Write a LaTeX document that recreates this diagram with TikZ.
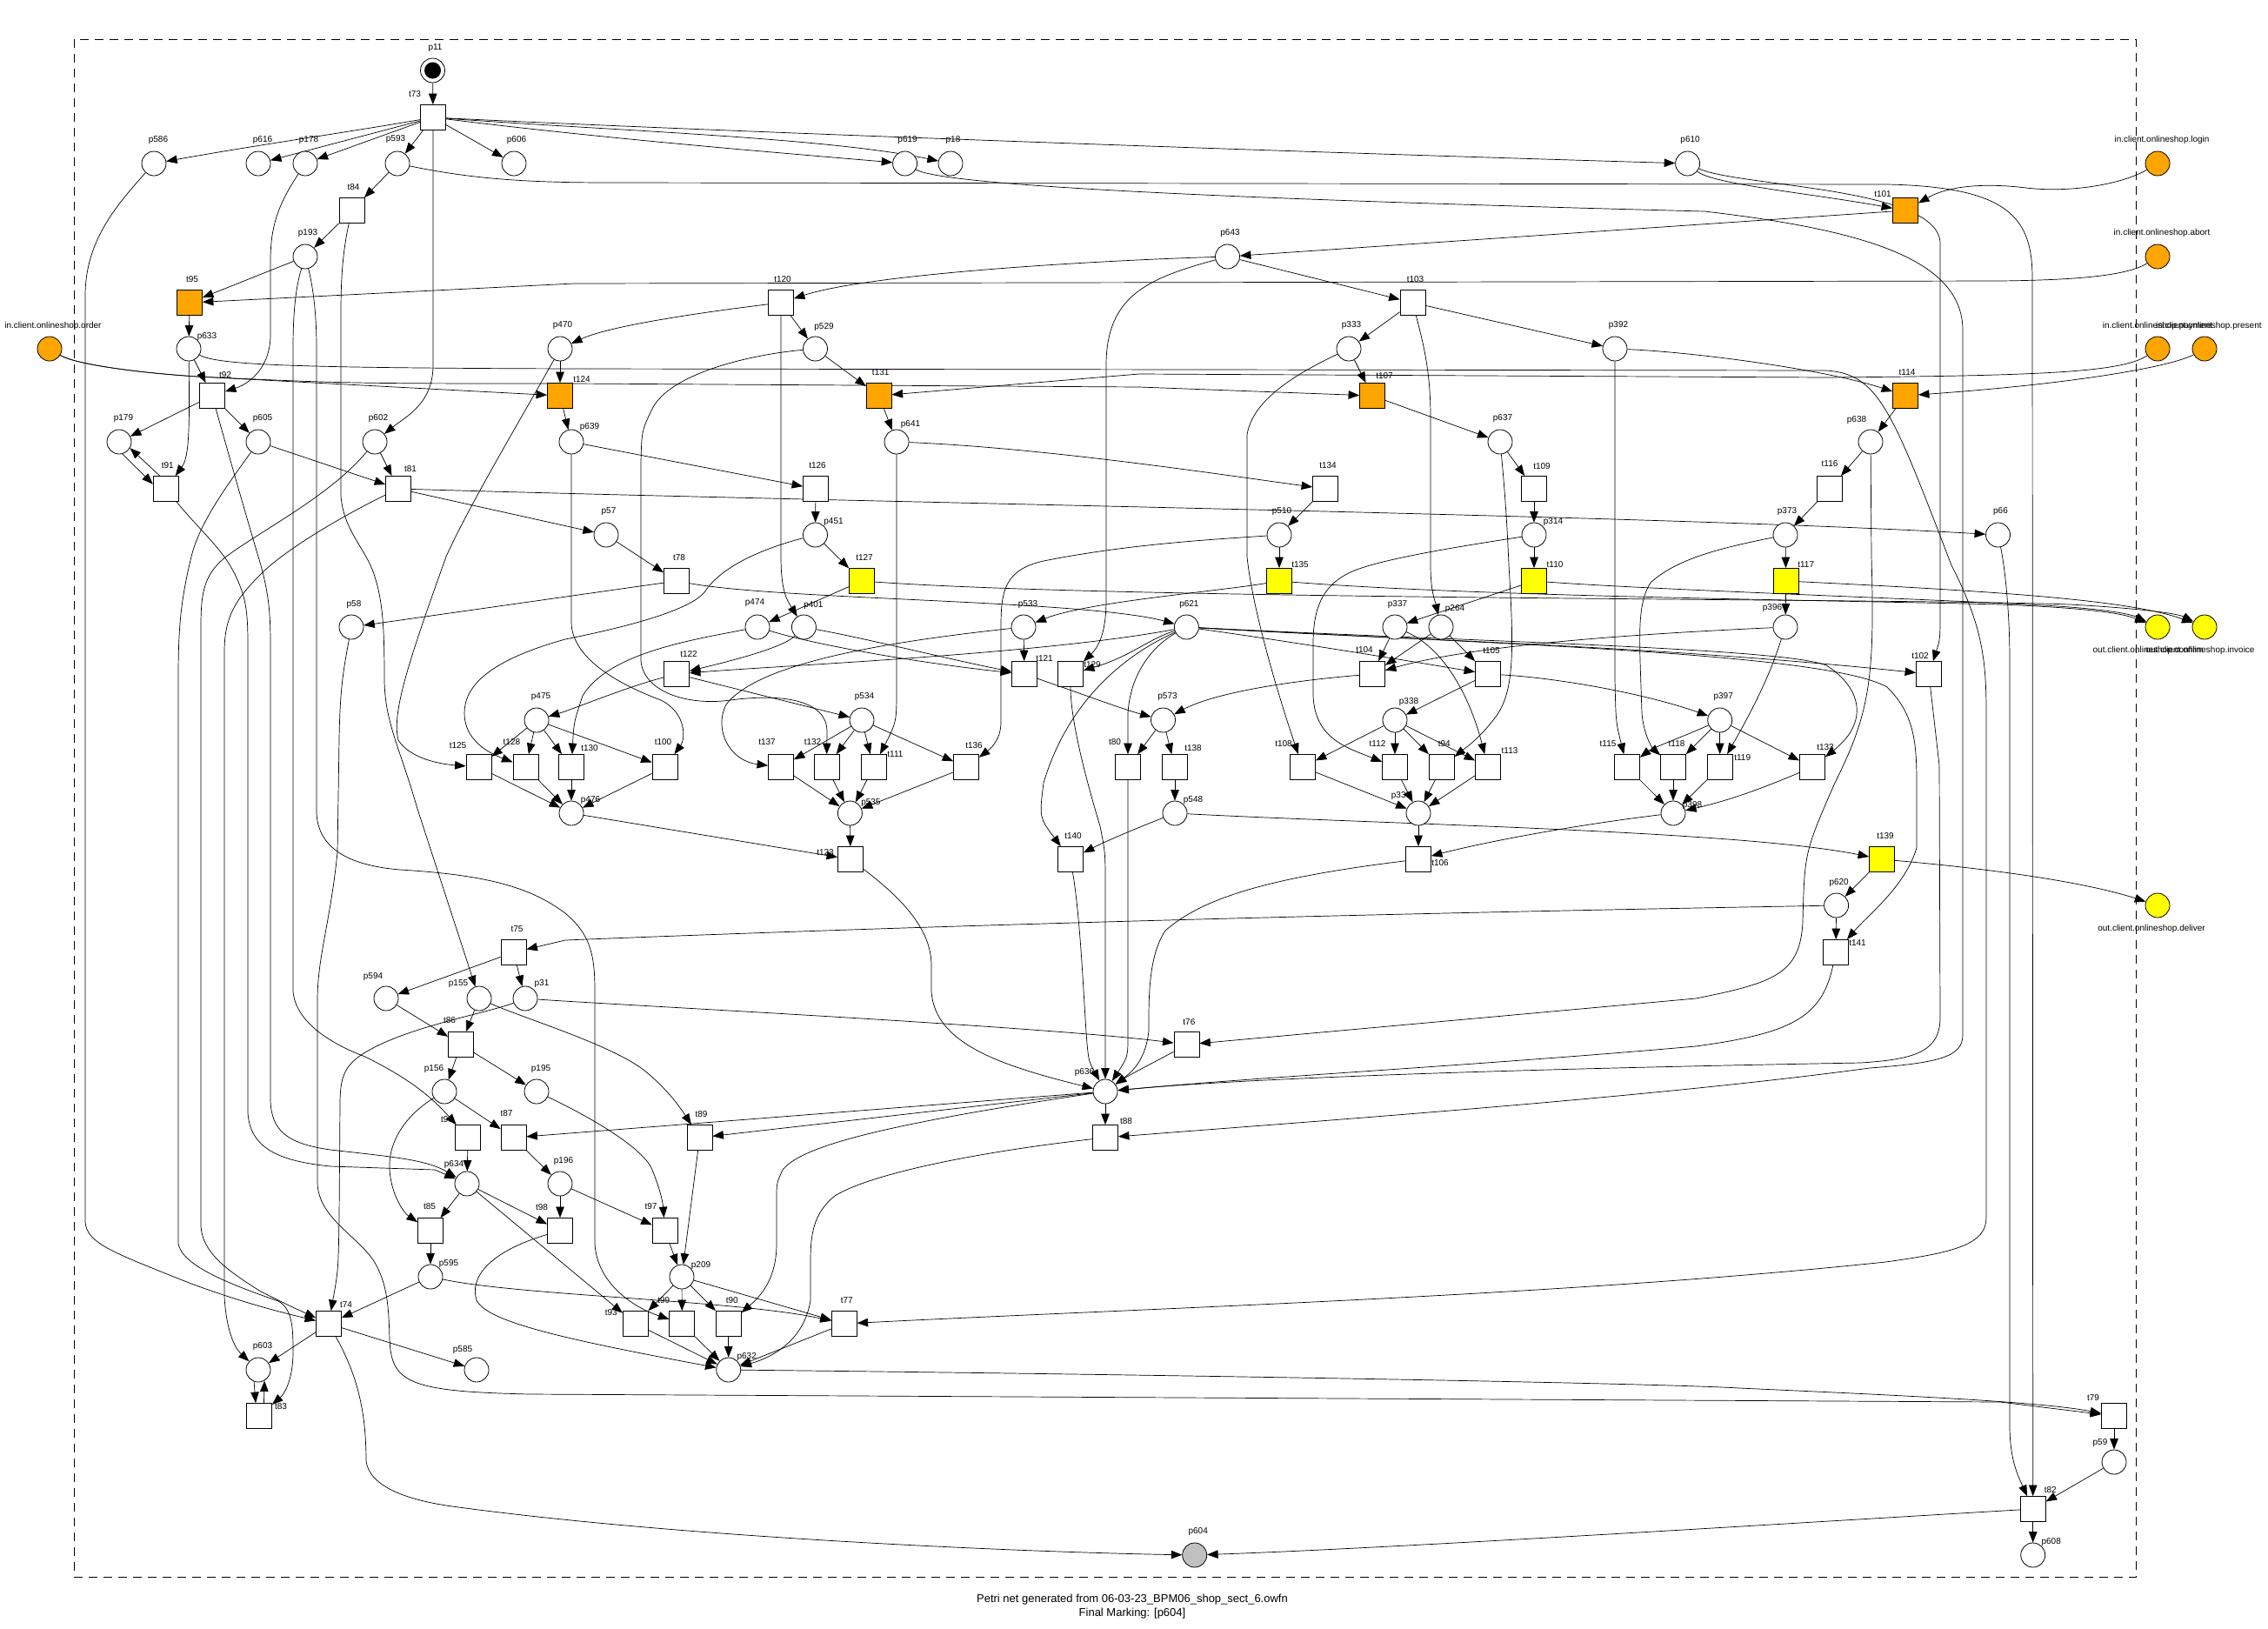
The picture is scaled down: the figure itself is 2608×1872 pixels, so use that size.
\documentclass[tikz,border=0pt]{standalone}
\usepackage{fontspec}
\setmainfont{Liberation Sans}
\usetikzlibrary{arrows.meta}
\definecolor{orng}{HTML}{FFA500}
\definecolor{ylw}{HTML}{FFFF00}
\definecolor{gry}{HTML}{C0C0C0}
\pgfdeclarelayer{back}
\pgfdeclarelayer{bg}
\pgfsetlayers{back,bg,main}
% place / transition with its name written at an offset from the centre
\newcommand\mkplace[6][white]{\node[pl,fill=#1] (#2) at (#3,#4) {};\node[lab] (#2l) at ({#3+#5},{#4+#6}) {#2};}
\newcommand\mktrans[6][white]{\node[tr,fill=#1] (#2) at (#3,#4) {};\node[lab] (#2l) at ({#3+#5},{#4+#6}) {#2};}
\begin{document}
\begin{tikzpicture}[x=1pt,y=-1pt,
  pl/.style={circle,draw,line width=0.8pt,minimum size=28pt,inner sep=0pt},
  tr/.style={rectangle,draw,line width=0.8pt,minimum size=29pt,inner sep=0pt},
  lab/.style={font=\fontsize{10}{12}\selectfont,inner sep=0pt},
  arc/.style={line width=0.7pt,-{Triangle[length=12.5pt,width=9.5pt]}}]
\useasboundingbox (0,0) rectangle (2608,1872);
\begin{pgfonlayer}{back}
\fill[white] (0,0) rectangle (2608,1872);
\end{pgfonlayer}
\draw[dash pattern=on 10pt off 7pt,line width=0.7pt] (85.5,45.4) rectangle (2456.5,1813.5);

% ---------- places and transitions ----------
\mkplace{p11}{497.5}{81}{3}{-26}
\fill (p11.center) circle[radius=9.5pt];
\mktrans{t73}{498}{135}{-21}{-27}
\mkplace{p586}{177}{188}{5}{-27}
\mkplace{p616}{297}{188}{5}{-27}
\mkplace{p178}{351}{188}{4}{-27}
\mkplace{p593}{457}{188}{-2}{-28}
\mkplace{p606}{591}{188}{3}{-27}
\mkplace{p619}{1040.6}{188}{3}{-27}
\mkplace{p18}{1093}{188}{3}{-27}
\mkplace{p610}{1940.6}{188}{3}{-27}
\mktrans{t84}{404.5}{242}{2}{-27}
\mktrans[orng]{t101}{2191}{242}{-26}{-19}
\mkplace{p193}{351}{295}{3}{-27}
\mkplace{p643}{1411.5}{295}{3}{-27}
\mktrans[orng]{t95}{218}{348}{3}{-27}
\mktrans{t120}{898}{348}{2}{-27}
\mktrans{t103}{1624.5}{348}{3}{-27}
\mkplace{p633}{217}{401}{21}{-14}
\mkplace{p470}{644}{401}{3}{-27}
\mkplace{p529}{937.5}{401}{10}{-25}
\mkplace{p333}{1551}{401}{3}{-27}
\mkplace{p392}{1857}{401}{4}{-27}
\mktrans{t92}{244}{455}{15}{-24}
\mktrans[orng]{t124}{644}{455}{25}{-19}
\mktrans[orng]{t131}{1010.7}{455}{2}{-27}
\mktrans[orng]{t107}{1578}{455}{14}{-23}
\mktrans[orng]{t114}{2191}{455}{2}{-27}
\mkplace{p179}{137}{508}{5}{-27}
\mkplace{p605}{297}{508}{5}{-27}
\mkplace{p602}{431}{508}{4}{-27}
\mkplace{p639}{657}{508}{21}{-17}
\mkplace{p641}{1031}{508}{16}{-20}
\mkplace{p637}{1725}{508}{3}{-27}
\mkplace{p638}{2151}{508}{-16}{-25}
\mktrans{t91}{190.7}{562}{2}{-27}
\mktrans{t81}{458}{562}{14}{-23}
\mktrans{t126}{938}{562}{2}{-27}
\mktrans{t134}{1524}{562}{3}{-27}
\mktrans{t109}{1764}{562}{9}{-26}
\mktrans{t116}{2104}{562}{0}{-29}
\mkplace{p57}{697}{615}{3}{-27}
\mkplace{p451}{937.5}{615}{21}{-15}
\mkplace{p510}{1471}{615}{3}{-27}
\mkplace{p314}{1764}{615}{22}{-15}
\mkplace{p373}{2053}{615}{2}{-27}
\mkplace{p66}{2297.5}{615}{3}{-27}
\mktrans{t78}{778}{668}{3}{-27}
\mktrans[ylw]{t127}{991}{668}{3}{-27}
\mktrans[ylw]{t135}{1471}{668}{24}{-19}
\mktrans[ylw]{t110}{1764}{668}{24}{-19}
\mktrans[ylw]{t117}{2053.7}{668}{23}{-19}
\mkplace{p58}{404}{721}{3}{-26}
\mkplace{p474}{871}{721}{-3}{-28}
\mkplace{p401}{924.4}{721}{11}{-25}
\mkplace{p533}{1177}{721}{5}{-26}
\mkplace{p621}{1364.4}{721}{3}{-26}
\mkplace{p337}{1604}{721}{3}{-26}
\mkplace{p264}{1657}{721}{16}{-21}
\mkplace{p396}{2053}{721}{-15}{-22}
\mktrans{t122}{778}{775}{14}{-23}
\mktrans{t121}{1178}{775}{23}{-18}
\mktrans{t129}{1231}{775}{25}{-11}
\mktrans{t104}{1578}{775}{-9}{-28}
\mktrans{t105}{1711}{775}{4}{-27}
\mktrans{t102}{2218}{775}{-10}{-21}
\mkplace{p475}{617}{828}{5}{-27}
\mkplace{p534}{991}{828}{3}{-27}
\mkplace{p573}{1337.5}{828}{5}{-27}
\mkplace{p338}{1604}{828}{16}{-21}
\mkplace{p397}{1977.7}{828}{4}{-27}
\mktrans{t125}{550.5}{882}{-24}{-25}
\mktrans{t128}{604.4}{882}{-16}{-29}
\mktrans{t130}{657}{882}{21}{-22}
\mktrans{t100}{764.5}{882}{-2}{-29}
\mktrans{t137}{898}{882}{-16}{-29}
\mktrans{t132}{950.5}{882}{-16}{-29}
\mktrans{t111}{1004.4}{882}{25}{-15}
\mktrans{t136}{1111}{882}{9}{-25}
\mktrans{t80}{1297}{882}{-15}{-29}
\mktrans{t138}{1351}{882}{21}{-22}
\mktrans{t108}{1498}{882}{-22}{-27}
\mktrans{t112}{1604}{882}{-20}{-27}
\mktrans{t94}{1657.7}{882}{3}{-27}
\mktrans{t113}{1711}{882}{25}{-19}
\mktrans{t115}{1871}{882}{-22}{-27}
\mktrans{t118}{1924}{882}{4}{-27}
\mktrans{t119}{1977.7}{882}{26}{-11}
\mktrans{t133}{2084}{882}{15}{-23}
\mkplace{p476}{657}{935}{22}{-15}
\mkplace{p535}{977.4}{935}{24}{-12}
\mkplace{p548}{1351}{935}{21}{-15}
\mkplace{p339}{1631}{935}{-20}{-20}
\mkplace{p398}{1924}{935}{22}{-9}
\mktrans{t123}{978}{988}{-29}{-8}
\mktrans{t140}{1231}{988}{3}{-27}
\mktrans{t106}{1631}{988}{25}{4}
\mktrans[ylw]{t139}{2164}{988}{4}{-27}
\mkplace{p620}{2111.6}{1041}{3}{-26}
\mktrans{t75}{590.5}{1095}{4}{-27}
\mktrans{t141}{2111}{1095}{25}{-11}
\mkplace{p594}{444}{1148}{-15}{-25}
\mkplace{p155}{551}{1148}{-24}{-17}
\mkplace{p31}{604}{1148}{19}{-17}
\mktrans{t86}{530}{1201}{-13}{-28}
\mktrans{t76}{1364.4}{1201}{3}{-26}
\mkplace{p156}{511}{1255}{-12}{-26}
\mkplace{p195}{617}{1255}{5}{-26}
\mkplace{p636}{1271}{1255}{-24}{-22}
\mktrans{t96}{538}{1308}{-24}{-21}
\mktrans{t87}{590.5}{1308}{-8}{-28}
\mktrans{t89}{804.5}{1308}{2}{-27}
\mktrans{t88}{1271}{1308}{24}{-19}
\mkplace{p634}{537}{1361}{-15}{-22}
\mkplace{p196}{644}{1361}{4}{-26}
\mktrans{t85}{495}{1415}{-1}{-28}
\mktrans{t98}{644}{1415}{-21}{-27}
\mktrans{t97}{764.5}{1415}{-16}{-28}
\mkplace{p595}{495}{1468}{21}{-15}
\mkplace{p209}{784}{1468}{22}{-13}
\mktrans{t74}{378}{1522}{20}{-22}
\mktrans{t93}{730.8}{1522}{-28}{-13}
\mktrans{t99}{784.3}{1522}{-21}{-27}
\mktrans{t90}{837.7}{1522}{4}{-27}
\mktrans{t77}{970.7}{1522}{3}{-27}
\mkplace{p603}{297}{1575}{5}{-27}
\mkplace{p585}{548}{1575}{-16}{-23}
\mkplace{p632}{837.7}{1575}{21}{-15}
\mktrans{t83}{298}{1628}{25}{-11}
\mktrans{t79}{2431}{1628}{-24}{-21}
\mkplace{p59}{2431}{1681}{-16}{-22}
\mktrans{t82}{2337.7}{1735}{20}{-22}
\mkplace[gry]{p604}{1373.7}{1788}{4}{-27}
\mkplace{p608}{2337.7}{1788}{21}{-15}

% interface places
\node[pl,fill=orng] (order) at (57,401) {};
\node[lab] (orderl) at (61,375) {in.client.onlineshop.order};
\node[pl,fill=orng] (login) at (2481,188) {};
\node[lab] (loginl) at (2486,161) {in.client.onlineshop.login};
\node[pl,fill=orng] (abort) at (2481,295) {};
\node[lab] (abortl) at (2486,268) {in.client.onlineshop.abort};
\node[pl,fill=orng] (payment) at (2481,401) {};
\node[lab] (paymentl) at (2481,375) {in.client.onlineshop.payment};
\node[pl,fill=orng] (present) at (2535,401) {};
\node[lab] (presentl) at (2540,375) {in.client.onlineshop.present};
\node[pl,fill=ylw] (confirm) at (2481,721) {};
\node[lab] (confirml) at (2470,748) {out.client.onlineshop.confirm};
\node[pl,fill=ylw] (invoice) at (2535,721) {};
\node[lab] (invoicel) at (2530,748) {out.client.onlineshop.invoice};
\node[pl,fill=ylw] (deliver) at (2481,1041) {};
\node[lab] (deliverl) at (2474,1068) {out.client.onlineshop.deliver};

\node[font=\fontsize{13}{16}\selectfont,align=center] (caption) at (1302,1847)
  {Petri net generated from 06-03-23\_BPM06\_shop\_sect\_6.owfn\\Final Marking: [p604]};

% ---------- arcs ----------
\begin{pgfonlayer}{bg}
% top
\draw[arc] (p11) -- (t73);
\draw[arc] (t73) .. controls (400,152) and (300,166) .. (p586);
\draw[arc] (t73) -- (p616);
\draw[arc] (t73) -- (p178);
\draw[arc] (t73) -- (p593);
\draw[arc] (t73) -- (p606);
\draw[arc] (t73) .. controls (700,160) and (900,176) .. (p619);
\draw[arc] (t73) .. controls (700,150) and (950,158) .. (p18);
\draw[arc] (t73) .. controls (800,150) and (1400,172) .. (p610);
\draw[arc] (t73) -- (498,420) .. controls (498,465) and (465,480) .. (p602);
\draw[arc] (p593) -- (t84);
\draw[arc] (t84) -- (p193);
\draw[arc] (p193) -- (t95);
\draw[arc] (abort) .. controls (2445,318) and (2380,322) .. (2300,323) -- (660,326) -- (t95);
\draw[arc] (t95) -- (p633);
\draw[arc] (p633) -- (t92);
\draw[arc] (p633) .. controls (218,490) and (218,525) .. (t91);
\draw[arc] (p178) .. controls (320,235) and (311,260) .. (311,300) -- (311,385) .. controls (311,420) and (290,440) .. (t92);
\draw[arc] (t92) -- (p179);
\draw[arc] (t92) -- (p605);
\draw[arc] (p179.285) -- (t91.160);
\draw[arc] (t91.115) -- (p179.330);
\draw[arc] (p605) -- (t81);
\draw[arc] (p602) -- (t81);
\draw[arc] (t81) -- (p57);
\draw[arc] (t81) .. controls (1000,578) and (1900,592) .. (p66);
\draw[arc] (p610) .. controls (1970,212) and (2080,222) .. (t101);
\draw[arc] (login) .. controls (2440,212) and (2380,222) .. (2330,216) .. controls (2280,210) and (2240,214) .. (t101);
\draw[arc] (t101) -- (p643);
\draw[arc] (p643) .. controls (1250,300) and (1000,315) .. (t120);
\draw[arc] (p643) -- (t103);
\draw[arc] (p643) .. controls (1320,320) and (1272,340) .. (1272,420) -- (1272,690) .. controls (1272,730) and (1262,745) .. (t129);
\draw[arc] (p593) .. controls (540,205) and (600,210) .. (700,210) -- (2170,212) .. controls (2310,215) and (2337,250) .. (2337,320) -- (t82);
\draw[arc] (p610) .. controls (2000,215) and (2231,215) .. (2231,280) -- (2231,700) .. controls (2231,735) .. (t102);
\draw[arc] (p619) .. controls (1080,210) and (1300,226) .. (1960,243) .. controls (2150,265) and (2257,300) .. (2257,380) -- (2257,1190) .. controls (2257,1215) and (2230,1222) .. (2150,1228) .. controls (1900,1262) and (1500,1290) .. (t88);
\draw[arc] (p633) .. controls (250,420) and (345,423) .. (660,424) -- (2100,426) .. controls (2160,430) and (2175,470) .. (2244,650) .. controls (2280,720) and (2284,760) .. (2284,820) -- (2284,1400) .. controls (2284,1430) and (2250,1440) .. (2168,1451) .. controls (1800,1490) and (1300,1505) .. (t77);
\draw[arc] (p66) .. controls (2305,650) and (2311,700) .. (2311,760) -- (2311,1640) .. controls (2311,1680) and (2322,1700) .. (t82);
\draw[arc] (order) .. controls (85,418) and (150,428) .. (227,433) -- (t124);
\draw[arc] (order) .. controls (85,418) and (150,428) .. (227,433) .. controls (400,441) .. (660,441) -- (1310,445) -- (t107);
\draw[arc] (payment) .. controls (2440,428) and (2350,432) .. (2100,434) -- (1310,430) -- (t131);
\draw[arc] (present) .. controls (2500,420) and (2400,440) .. (t114);
\draw[arc] (p392) .. controls (1950,405) and (2100,425) .. (t114);
% upper middle
\draw[arc] (t120) .. controls (800,360) and (700,375) .. (p470);
\draw[arc] (t120) -- (p529);
\draw[arc] (t120) -- (898,640) .. controls (898,680) and (905,690) .. (p401);
\draw[arc] (p470) -- (t124);
\draw[arc] (p470) .. controls (600,480) and (540,580) .. (513,640) .. controls (470,760) and (450,820) .. (458,851) .. controls (470,870) and (500,878) .. (t125);
\draw[arc] (t124) -- (p639);
\draw[arc] (p639) -- (t126);
\draw[arc] (p639) -- (657,715) .. controls (657,760) and (720,790) .. (760,805) .. controls (790,820) and (788,850) .. (t100);
\draw[arc] (p529) -- (t131);
\draw[arc] (p529) .. controls (860,408) and (770,430) .. (750,470) .. controls (738,495) .. (737,530) -- (737,760) .. controls (740,795) and (790,812) .. (840,805) .. controls (900,797) and (950,805) .. (951,840) -- (t132);
\draw[arc] (t131) -- (p641);
\draw[arc] (p641) .. controls (1200,515) and (1400,545) .. (t134);
\draw[arc] (p641) -- (1031,790) .. controls (1031,830) .. (t111);
\draw[arc] (t126) -- (p451);
\draw[arc] (p451) -- (t127);
\draw[arc] (p451) .. controls (880,630) and (830,650) .. (810,681) .. controls (790,705) and (700,725) .. (650,735) .. controls (560,760) and (534,790) .. (534,820) .. controls (534,850) and (560,865) .. (t128);
\draw[arc] (t127) -- (p474);
\draw[arc] (t134) -- (p510);
\draw[arc] (p510) -- (t135);
\draw[arc] (p510) .. controls (1400,620) and (1300,625) .. (1200,645) .. controls (1155,655) and (1151,680) .. (1151,720) -- (1151,830) .. controls (1151,850) and (1140,860) .. (t136);
\draw[arc] (t103) -- (p333);
\draw[arc] (t103) -- (p392);
\draw[arc] (t103) .. controls (1638,400) and (1645,430) .. (1645,480) -- (1645,650) .. controls (1645,680) and (1650,690) .. (p264);
\draw[arc] (p333) -- (t107);
\draw[arc] (p333) .. controls (1490,430) and (1440,460) .. (1434,500) -- (1434,640) .. controls (1440,700) and (1470,800) .. (t108);
\draw[arc] (t107) -- (p637);
\draw[arc] (p637) -- (t109);
\draw[arc] (p637) .. controls (1730,560) and (1733,600) .. (1735,650) .. controls (1742,760) and (1740,800) .. (1717,828) .. controls (1700,850) and (1685,860) .. (t94);
\draw[arc] (t109) -- (p314);
\draw[arc] (p314) -- (t110);
\draw[arc] (p314) .. controls (1700,625) and (1600,640) .. (1560,655) .. controls (1520,670) and (1510,700) .. (1510,740) -- (1510,800) .. controls (1512,850) and (1550,860) .. (t112);
\draw[arc] (t110) -- (p337);
\draw[arc] (p392) -- (1857,780) .. controls (1858,830) .. (t115);
\draw[arc] (t114) -- (p638);
\draw[arc] (p638) -- (t116);
\draw[arc] (t116) -- (p373);
\draw[arc] (p373) -- (t117);
\draw[arc] (t117) -- (p396);
\draw[arc] (p638) -- (2152,640) .. controls (2156,780) and (2150,820) .. (2110,900) .. controls (2075,980) .. (2073,1060) .. controls (2070,1120) and (2040,1130) .. (1950,1148) -- (t76);
\draw[arc] (p373) .. controls (1990,628) and (1930,640) .. (1898,670) .. controls (1885,690) and (1885,720) .. (1886,760) -- (1888,820) .. controls (1890,845) and (1900,860) .. (t118);
% sending transitions
\draw[arc] (t127) .. controls (1300,690) and (2200,688) .. (2380,695) .. controls (2470,700) and (2505,706) .. (invoice);
\draw[arc] (t135) .. controls (1700,686) and (2100,690) .. (2300,695) .. controls (2400,699) and (2440,705) .. (confirm);
\draw[arc] (t110) .. controls (1900,678) and (2200,688) .. (2350,696) .. controls (2420,700) and (2450,706) .. (confirm);
\draw[arc] (t117) .. controls (2300,680) and (2450,690) .. (invoice);
\draw[arc] (t135) .. controls (1400,680) and (1250,692) .. (p533);
\draw[arc] (t78) .. controls (900,690) and (1250,690) .. (p621);
\draw[arc] (p57) -- (t78);
\draw[arc] (t78) -- (p58);
% middle
\draw[arc] (p401) .. controls (1000,735) and (1100,760) .. (t121);
\draw[arc] (p474) .. controls (950,745) and (1080,765) .. (t121);
\draw[arc] (p401) .. controls (900,745) and (840,760) .. (t122);
\draw[arc] (p474) .. controls (800,735) and (700,750) .. (670,800) .. controls (660,830) .. (t130);
\draw[arc] (p533) -- (t121);
\draw[arc] (p533) .. controls (1000,740) and (870,765) .. (835,810) .. controls (820,840) and (840,875) .. (t137);
\draw[arc] (p621) .. controls (1200,752) and (900,765) .. (t122);
\draw[arc] (t122) -- (p534);
\draw[arc] (t122) .. controls (720,790) and (660,815) .. (p475);
\draw[arc] (p534) -- (t137);
\draw[arc] (p534) -- (t132);
\draw[arc] (p534) -- (t111);
\draw[arc] (p534) -- (t136);
\draw[arc] (p475) -- (t125);
\draw[arc] (p475) -- (t128);
\draw[arc] (p475) -- (t130);
\draw[arc] (p475) -- (t100);
\draw[arc] (t125) -- (p476);
\draw[arc] (t128) -- (p476);
\draw[arc] (t130) -- (p476);
\draw[arc] (t100) -- (p476);
\draw[arc] (t137) -- (p535);
\draw[arc] (t132) -- (p535);
\draw[arc] (t111) -- (p535);
\draw[arc] (t136) -- (p535);
\draw[arc] (p476) -- (t123);
\draw[arc] (p535) -- (t123);
\draw[arc] (t123) .. controls (1040,1035) and (1071,1070) .. (1071,1110) -- (1071,1140) .. controls (1075,1200) and (1150,1225) .. (p636);
\draw[arc] (t121) .. controls (1250,800) and (1290,815) .. (p573);
\draw[arc] (t129) .. controls (1231,830) and (1250,900) .. (1265,950) .. controls (1271,980) .. (1271,1020) -- (p636);
\draw[arc] (t80) -- (1297,1190) .. controls (1297,1215) .. (p636);
\draw[arc] (t140) .. controls (1243,1060) and (1246,1150) .. (1250,1200) .. controls (1252,1220) .. (p636);
\draw[arc] (p548) .. controls (1300,955) and (1270,968) .. (t140);
\draw[arc] (p548) .. controls (1600,948) and (2000,955) .. (t139);
\draw[arc] (p573) -- (t80);
\draw[arc] (p573) -- (t138);
\draw[arc] (t138) -- (p548);
\draw[arc] (t104) .. controls (1460,785) and (1390,800) .. (p573);
\draw[arc] (p621) .. controls (1500,740) and (1620,760) .. (t105);
\draw[arc] (p621) .. controls (1320,735) and (1300,755) .. (t129);
\draw[arc] (p621) .. controls (1330,740) and (1300,770) .. (1297,820) -- (t80);
\draw[arc] (p621) .. controls (1300,750) and (1230,800) .. (1200,900) .. controls (1195,940) .. (t140);
\draw[arc] (p621) .. controls (1600,735) and (1900,742) .. (t102);
\draw[arc] (p621) .. controls (1700,738) and (2050,745) .. (2100,765) .. controls (2140,790) and (2150,830) .. (t133);
\draw[arc] (p621) .. controls (1700,740) and (2100,750) .. (2170,790) .. controls (2200,820) and (2204,850) .. (2204,900) -- (2204,975) .. controls (2190,1020) and (2150,1050) .. (t141);
\draw[arc] (p337) -- (t104);
\draw[arc] (p264) -- (t104);
\draw[arc] (p264) -- (t105);
\draw[arc] (p337) .. controls (1660,745) and (1690,800) .. (t113);
\draw[arc] (t105) -- (p338);
\draw[arc] (t105) .. controls (1800,780) and (1900,800) .. (p397);
\draw[arc] (p338) -- (t108);
\draw[arc] (p338) -- (t112);
\draw[arc] (p338) -- (t94);
\draw[arc] (p338) -- (t113);
\draw[arc] (t108) -- (p339);
\draw[arc] (t112) -- (p339);
\draw[arc] (t94) -- (p339);
\draw[arc] (t113) -- (p339);
\draw[arc] (p339) -- (t106);
\draw[arc] (t106) .. controls (1450,1010) and (1380,1035) .. (1340,1070) .. controls (1320,1100) and (1321,1150) .. (1321,1185) .. controls (1318,1215) and (1305,1230) .. (p636);
\draw[arc] (p398) .. controls (1800,950) and (1700,970) .. (t106);
\draw[arc] (t115) -- (p398);
\draw[arc] (t118) -- (p398);
\draw[arc] (t119) -- (p398);
\draw[arc] (t133) .. controls (2030,905) and (1990,920) .. (p398);
\draw[arc] (p397) .. controls (1940,845) and (1900,860) .. (t115);
\draw[arc] (p397) -- (t118);
\draw[arc] (p397) -- (t119);
\draw[arc] (p397) -- (t133);
\draw[arc] (p396) .. controls (2040,760) and (2030,790) .. (t119);
\draw[arc] (p396) .. controls (1900,728) and (1700,740) .. (t104);
\draw[arc] (t139) -- (p620);
\draw[arc] (t139) .. controls (2300,1000) and (2400,1015) .. (deliver);
\draw[arc] (p620) -- (t141);
\draw[arc] (p620) .. controls (1900,1045) and (1300,1055) .. (650,1081) -- (t75);
\draw[arc] (t141) .. controls (2095,1170) and (2060,1188) .. (1950,1203) .. controls (1700,1225) and (1450,1238) .. (p636);
\draw[arc] (t102) -- (2230,880) -- (2231,1170) .. controls (2231,1210) and (2200,1218) .. (2140,1222) .. controls (1800,1228) and (1450,1238) .. (p636);
% lower part
\draw[arc] (t75) -- (p594);
\draw[arc] (t75) -- (p31);
\draw[arc] (p594) -- (t86);
\draw[arc] (p155) -- (t86);
\draw[arc] (p155) .. controls (600,1170) and (700,1200) .. (740,1230) .. controls (765,1250) and (780,1270) .. (t89);
\draw[arc] (p31) .. controls (700,1155) and (1200,1180) .. (t76);
\draw[arc] (p31) .. controls (560,1165) and (470,1180) .. (420,1210) .. controls (395,1225) and (391,1240) .. (391,1270) -- (390,1400) .. controls (389,1460) .. (t74);
\draw[arc] (t76) .. controls (1330,1220) and (1300,1235) .. (p636);
\draw[arc] (t86) -- (p156);
\draw[arc] (t86) -- (p195);
\draw[arc] (p156) -- (t87);
\draw[arc] (p156) .. controls (470,1280) and (446,1310) .. (448,1345) .. controls (450,1375) and (465,1395) .. (t85);
\draw[arc] (p195) .. controls (680,1285) and (740,1320) .. (750,1345) .. controls (758,1365) and (762,1380) .. (t97);
\draw[arc] (p636) -- (t87);
\draw[arc] (p636) -- (t89);
\draw[arc] (p636) .. controls (1000,1295) and (920,1320) .. (900,1345) .. controls (893,1360) .. (893,1380) -- (893,1430) .. controls (893,1470) and (875,1490) .. (t90);
\draw[arc] (p636) -- (t88);
\draw[arc] (t88) .. controls (1120,1325) and (1000,1350) .. (960,1375) .. controls (935,1395) and (932,1420) .. (932,1450) -- (932,1495) .. controls (925,1540) and (890,1560) .. (p632);
\draw[arc] (t96) -- (p634);
\draw[arc] (t87) -- (p196);
\draw[arc] (p634) -- (t85);
\draw[arc] (p634) -- (t98);
\draw[arc] (p634) -- (t93);
\draw[arc] (p196) -- (t98);
\draw[arc] (p196) -- (t97);
\draw[arc] (t85) -- (p595);
\draw[arc] (p595) -- (t74);
\draw[arc] (p595) .. controls (600,1490) and (850,1495) .. (t77);
\draw[arc] (t97) -- (p209);
\draw[arc] (t89) -- (p209);
\draw[arc] (p209) -- (t93);
\draw[arc] (p209) -- (t99);
\draw[arc] (p209) -- (t90);
\draw[arc] (p209) -- (t77);
\draw[arc] (t93) -- (p632);
\draw[arc] (t99) -- (p632);
\draw[arc] (t90) -- (p632);
\draw[arc] (t77) -- (p632);
\draw[arc] (t98) .. controls (560,1440) and (540,1470) .. (548,1495) .. controls (560,1520) and (650,1540) .. (p632);
\draw[arc] (t74) -- (p603);
\draw[arc] (t74) -- (p585);
\draw[arc] (p603.250) -- (t83.105);
\draw[arc] (t83.70) -- (p603.300);
\draw[arc] (t74) .. controls (410,1580) and (421,1620) .. (421,1680) .. controls (425,1710) and (470,1725) .. (520,1732) .. controls (800,1770) and (1200,1785) .. (p604);
\draw[arc] (t82) .. controls (2000,1755) and (1600,1780) .. (p604);
\draw[arc] (t82) -- (p608);
\draw[arc] (t79) -- (p59);
\draw[arc] (p59) -- (t82);
\draw[arc] (p632) .. controls (1300,1580) and (1900,1590) .. (2000,1596) .. controls (2200,1605) and (2350,1612) .. (t79);
\draw[arc] (p58) .. controls (395,770) and (391,790) .. (390,850) -- (388,980) .. controls (380,1060) and (365,1100) .. (365,1150) -- (365,1360) .. controls (366,1400) and (410,1420) .. (430,1450) .. controls (445,1475) and (447,1500) .. (448,1540) .. controls (450,1590) and (470,1600) .. (610,1603) -- (2300,1612) -- (t79);
% long left-hand runs
\draw[arc] (p586) .. controls (130,240) and (98,280) .. (98,340) -- (98,1405) .. controls (100,1430) and (130,1440) .. (220,1476) .. controls (280,1498) and (320,1508) .. (t74);
\draw[arc] (p602) .. controls (380,570) and (300,610) .. (260,640) .. controls (235,660) and (231,680) .. (231,720) -- (231,1410) .. controls (233,1440) and (260,1460) .. (300,1485) .. controls (330,1500) .. (t74);
\draw[arc] (t81) .. controls (400,590) and (330,630) .. (300,660) .. controls (270,690) and (258,710) .. (258,750) -- (258,1490) .. controls (260,1530) and (270,1550) .. (p603);
\draw[arc] (p605) .. controls (260,560) and (230,600) .. (220,640) .. controls (208,690) and (205,720) .. (205,780) -- (205,1430) .. controls (210,1455) and (260,1475) .. (320,1496) .. controls (337,1505) and (337,1530) .. (337,1555) .. controls (337,1580) and (330,1600) .. (t83);
\draw[arc] (t91) .. controls (230,610) and (255,630) .. (270,660) .. controls (282,685) and (285,700) .. (285,740) -- (285,1280) .. controls (288,1320) and (320,1335) .. (380,1341) -- (500,1345) -- (p634);
\draw[arc] (t92) .. controls (265,530) and (285,600) .. (300,650) .. controls (308,680) and (311,700) .. (311,740) -- (311,1265) .. controls (312,1300) and (330,1315) .. (380,1322) .. controls (450,1330) and (490,1333) .. (p634);
\draw[arc] (p193) .. controls (340,330) and (337,360) .. (337,400) -- (337,1140) .. controls (340,1175) and (380,1200) .. (420,1215) .. controls (470,1240) and (495,1260) .. (t96);
\draw[arc] (p193) .. controls (360,330) and (364,360) .. (364,400) -- (364,935) .. controls (366,975) and (400,995) .. (460,1000) .. controls (560,1006) and (610,1020) .. (650,1050) .. controls (680,1075) and (684,1100) .. (684,1140) -- (684,1430) .. controls (686,1470) and (720,1500) .. (t99);
\draw[arc] (t84) .. controls (394,290) and (392,320) .. (392,360) -- (392,570) .. controls (395,610) and (420,630) .. (430,660) .. controls (440,690) and (442,720) .. (442,780) .. controls (442,830) and (460,860) .. (480,930) -- (p155);
\end{pgfonlayer}
\end{tikzpicture}
\end{document}
